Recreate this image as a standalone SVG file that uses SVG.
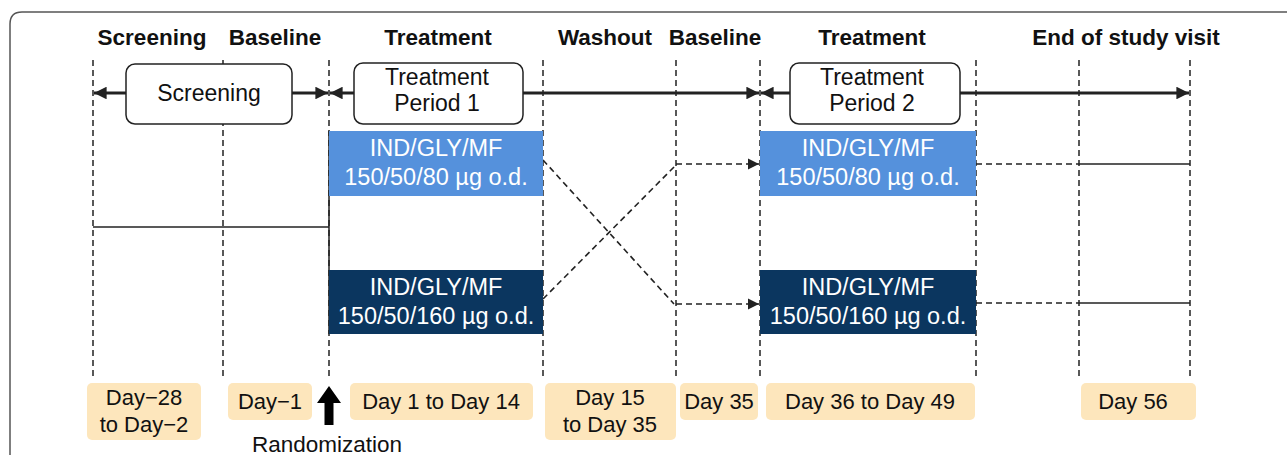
<svg xmlns="http://www.w3.org/2000/svg" width="1287" height="455" viewBox="0 0 1287 455">
<defs>
<style>
.hdr{font-family:"Liberation Sans",Arial,sans-serif;font-weight:bold;font-size:22.5px;fill:#111;text-anchor:middle}
.t{font-family:"Liberation Sans",Arial,sans-serif;font-size:22px;fill:#111;text-anchor:middle}
.bx{font-family:"Liberation Sans",Arial,sans-serif;font-size:23px;fill:#111;text-anchor:middle}
.w{font-family:"Liberation Sans",Arial,sans-serif;font-size:23.5px;fill:#fff;text-anchor:middle}
.vd{stroke:#222;stroke-width:1.5;stroke-dasharray:6,4;fill:none}
.tl{stroke:#222;stroke-width:3;fill:none}
.dash{stroke:#222;stroke-width:1.6;stroke-dasharray:6,4;fill:none}
.sol{stroke:#222;stroke-width:1.5;fill:none}
.pbox{fill:#fff;stroke:#222;stroke-width:1.5}
.peach{fill:#FDE6BC}
.lb{fill:#5591DC}
.db{fill:#0B365F}
</style>
<marker id="ah" viewBox="0 0 10 10" refX="10" refY="5" markerWidth="4.2" markerHeight="4.2" orient="auto" markerUnits="strokeWidth">
<path d="M0,0 L10,5 L0,10 z" fill="#222"/>
</marker>
<marker id="ah2" viewBox="0 0 10 10" refX="10" refY="5" markerWidth="7" markerHeight="7" orient="auto" markerUnits="strokeWidth">
<path d="M0,0 L10,5 L0,10 z" fill="#222"/>
</marker>
</defs>
<path d="M10,455 V24 Q10,12 22,12 H1287" fill="none" stroke="#555" stroke-width="1.5"/>
<g id="headers">
<text class="hdr" x="152" y="45">Screening</text>
<text class="hdr" x="275" y="45">Baseline</text>
<text class="hdr" x="438" y="45">Treatment</text>
<text class="hdr" x="605" y="45">Washout</text>
<text class="hdr" x="715" y="45">Baseline</text>
<text class="hdr" x="872" y="45">Treatment</text>
<text class="hdr" x="1126" y="45">End of study visit</text>
</g>
<g id="gridlines">
<line class="vd" x1="93" y1="60" x2="93" y2="378"/>
<line class="vd" x1="223" y1="60" x2="223" y2="378"/>
<line class="vd" x1="329" y1="60" x2="329" y2="378"/>
<line class="vd" x1="543" y1="60" x2="543" y2="378"/>
<line class="vd" x1="676" y1="60" x2="676" y2="378"/>
<line class="vd" x1="760" y1="60" x2="760" y2="378"/>
<line class="vd" x1="976" y1="60" x2="976" y2="378"/>
<line class="vd" x1="1079" y1="60" x2="1079" y2="378"/>
<line class="vd" x1="1190" y1="60" x2="1190" y2="378"/>
</g>
<g id="connectors">
<line class="tl" x1="126" y1="93" x2="94" y2="93" marker-end="url(#ah)"/>
<line class="tl" x1="292" y1="93" x2="328" y2="93" marker-end="url(#ah)"/>
<line class="tl" x1="354" y1="93" x2="330" y2="93" marker-end="url(#ah)"/>
<line class="tl" x1="523" y1="93" x2="759" y2="93" marker-end="url(#ah)"/>
<line class="tl" x1="790" y1="93" x2="761" y2="93" marker-end="url(#ah)"/>
<line class="tl" x1="960" y1="93" x2="1189" y2="93" marker-end="url(#ah)"/>
<line class="sol" x1="93" y1="227" x2="329" y2="227"/>
<line class="sol" x1="329" y1="131" x2="329" y2="334"/>
<line class="dash" x1="543" y1="160" x2="674" y2="304"/>
<line class="dash" x1="543" y1="299" x2="676" y2="165"/>
<line class="dash" x1="676" y1="164" x2="759" y2="164" marker-end="url(#ah2)"/>
<line class="dash" x1="676" y1="304" x2="759" y2="304" marker-end="url(#ah2)"/>
<line class="dash" x1="976" y1="164" x2="1079" y2="164"/>
<line class="dash" x1="976" y1="303" x2="1079" y2="303"/>
<line class="sol" x1="1079" y1="164" x2="1190" y2="164"/>
<line class="sol" x1="1079" y1="303" x2="1190" y2="303"/>
</g>
<g id="screening-box">
<rect class="pbox" x="126" y="64" width="166" height="60" rx="9"/>
<text class="bx" x="209" y="101">Screening</text>
</g>
<g id="period1-box">
<rect class="pbox" x="354" y="63" width="169" height="61" rx="9"/>
<text class="bx" x="437" y="85">Treatment</text>
<text class="bx" x="437" y="111">Period 1</text>
</g>
<g id="period2-box">
<rect class="pbox" x="790" y="63" width="170" height="61" rx="9"/>
<text class="bx" x="872" y="85">Treatment</text>
<text class="bx" x="872" y="111">Period 2</text>
</g>
<g id="p1-low">
<rect class="lb" x="329" y="131" width="214" height="65"/>
<text class="w" x="436" y="156">IND/GLY/MF</text>
<text class="w" x="436" y="185">150/50/80 µg o.d.</text>
</g>
<g id="p1-high">
<rect class="db" x="329" y="270" width="214" height="64"/>
<text class="w" x="436" y="295">IND/GLY/MF</text>
<text class="w" x="436" y="324">150/50/160 µg o.d.</text>
</g>
<g id="p2-low">
<rect class="lb" x="760" y="131" width="216" height="65"/>
<text class="w" x="868" y="156">IND/GLY/MF</text>
<text class="w" x="868" y="185">150/50/80 µg o.d.</text>
</g>
<g id="p2-high">
<rect class="db" x="760" y="270" width="216" height="64"/>
<text class="w" x="868" y="295">IND/GLY/MF</text>
<text class="w" x="868" y="324">150/50/160 µg o.d.</text>
</g>
<g id="day-screening">
<rect class="peach" x="87" y="383" width="114" height="57" rx="5"/>
<text class="t" x="144" y="405">Day−28</text>
<text class="t" x="144" y="432">to Day−2</text>
</g>
<g id="day-baseline1">
<rect class="peach" x="228" y="383" width="84" height="37" rx="5"/>
<text class="t" x="270" y="409">Day−1</text>
</g>
<g id="randomization">
<path d="M329,386 L341,403 L333.5,403 L333.5,425 L324.5,425 L324.5,403 L317,403 z" fill="#000"/>
<text class="t" x="327" y="452" style="font-size:22.5px">Randomization</text>
</g>
<g id="day-treat1">
<rect class="peach" x="350" y="383" width="183" height="37" rx="5"/>
<text class="t" x="441" y="409">Day 1 to Day 14</text>
</g>
<g id="day-washout">
<rect class="peach" x="545" y="383" width="131" height="57" rx="5"/>
<text class="t" x="610" y="405">Day 15</text>
<text class="t" x="610" y="432">to Day 35</text>
</g>
<g id="day-baseline2">
<rect class="peach" x="680" y="383" width="78" height="37" rx="5"/>
<text class="t" x="719" y="409">Day 35</text>
</g>
<g id="day-treat2">
<rect class="peach" x="766" y="383" width="209" height="37" rx="5"/>
<text class="t" x="870" y="409">Day 36 to Day 49</text>
</g>
<g id="day-end">
<rect class="peach" x="1081" y="383" width="115" height="37" rx="5"/>
<text class="t" x="1133" y="409">Day 56</text>
</g>
</svg>
